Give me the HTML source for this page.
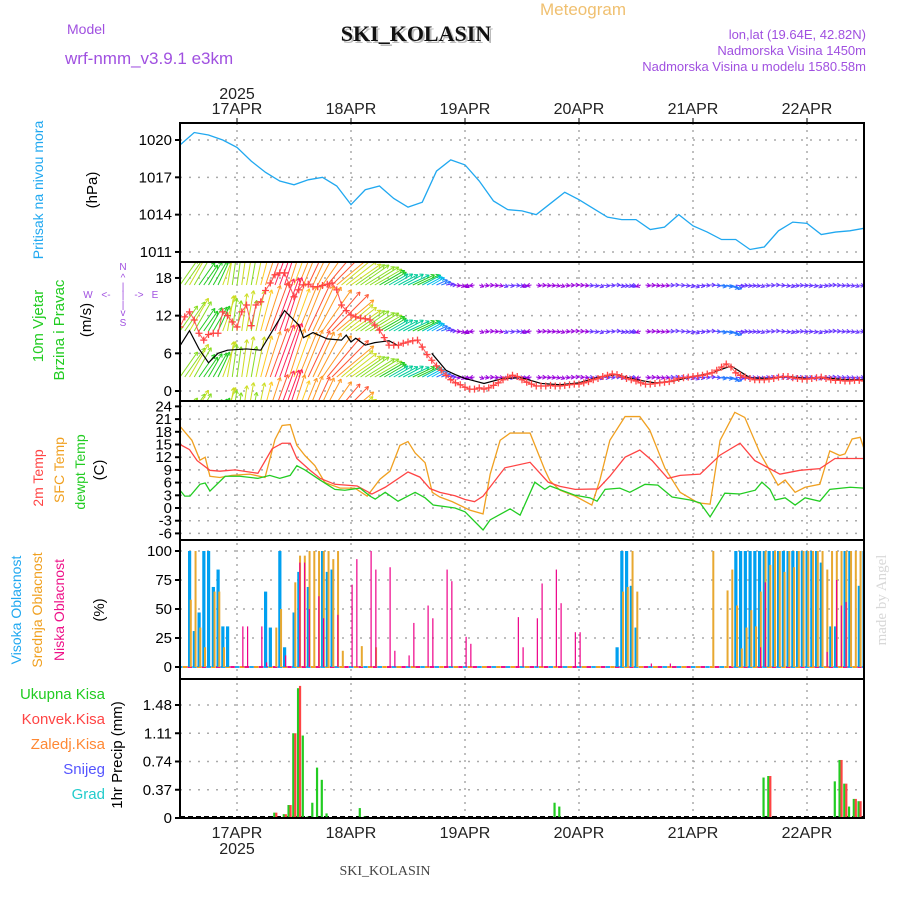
<!DOCTYPE html>
<html><head><meta charset="utf-8"><style>
body{margin:0;background:#fff}
svg{display:block}
text{font-family:"Liberation Sans",sans-serif}
text.serif{font-family:"Liberation Serif",serif}
</style></head><body>
<svg id="chart" width="900" height="900" viewBox="0 0 900 900" xmlns="http://www.w3.org/2000/svg">
<defs>
<clipPath id="cp1"><rect x="180" y="123" width="684" height="139"/></clipPath>
<clipPath id="cp2"><rect x="180" y="263" width="684" height="137"/></clipPath>
<clipPath id="cp3"><rect x="180" y="402" width="684" height="137"/></clipPath>
<clipPath id="cp4"><rect x="180" y="541" width="684" height="137"/></clipPath>
<clipPath id="cp5"><rect x="180" y="680" width="684" height="137"/></clipPath>
</defs>
<text x="583" y="15" font-size="17" fill="#f0c070" text-anchor="middle">Meteogram</text>
<text x="67" y="34" font-size="14" fill="#a050e0">Model</text>
<text x="65" y="64" font-size="17" fill="#a050e0">wrf-nmm_v3.9.1 e3km</text>
<text class="serif" x="418" y="43" font-size="22" font-weight="bold" fill="#bbb" text-anchor="middle">SKI_KOLASIN</text>
<text class="serif" x="416" y="41" font-size="22" font-weight="bold" fill="#111" text-anchor="middle">SKI_KOLASIN</text>
<text x="866" y="39" font-size="13" fill="#a050e0" text-anchor="end">lon,lat (19.64E, 42.82N)</text>
<text x="866" y="55" font-size="13" fill="#a050e0" text-anchor="end">Nadmorska Visina 1450m</text>
<text x="866" y="71" font-size="13" fill="#a050e0" text-anchor="end">Nadmorska Visina u modelu 1580.58m</text>
<text x="237" y="99" font-size="16" fill="#222" text-anchor="middle">2025</text>
<g id="topdates"></g>
<g id="grid"></g>
<g id="marks"></g>
<g id="frames"></g>
<g id="ticks"></g>
<text transform="translate(43,190) rotate(-90)" font-size="14" fill="#20a8f0" text-anchor="middle">Pritisak na nivou mora</text>
<text transform="translate(97,190) rotate(-90)" font-size="15" fill="#000" text-anchor="middle">(hPa)</text>
<text transform="translate(43,326) rotate(-90)" font-size="15" fill="#22cc22" text-anchor="middle">10m Vjetar</text>
<text transform="translate(64,330) rotate(-90)" font-size="15" fill="#22cc22" text-anchor="middle">Brzina i Pravac</text>
<text transform="translate(91,320) rotate(-90)" font-size="15" fill="#000" text-anchor="middle">(m/s)</text>
<g fill="#a050e0" font-size="10" text-anchor="middle">
<text x="123" y="270">N</text><text x="123" y="281">^</text><text x="123" y="290">|</text>
<text x="88" y="298">W</text><text x="106" y="298">&lt;-</text><text x="123" y="298">|</text><text x="139" y="298">-&gt;</text><text x="155" y="298">E</text>
<text x="123" y="308">|</text><text x="123" y="316">v</text><text x="123" y="326">S</text>
</g>
<text transform="translate(43,478) rotate(-90)" font-size="14" fill="#ff4444" text-anchor="middle">2m Temp</text>
<text transform="translate(64,470) rotate(-90)" font-size="14" fill="#f0a020" text-anchor="middle">SFC Temp</text>
<text transform="translate(85,472) rotate(-90)" font-size="14" fill="#22cc22" text-anchor="middle">dewpt Temp</text>
<text transform="translate(104,470) rotate(-90)" font-size="15" fill="#000" text-anchor="middle">(C)</text>
<text transform="translate(21,610) rotate(-90)" font-size="14" fill="#20a8f0" text-anchor="middle">Visoka Oblacnost</text>
<text transform="translate(42,610) rotate(-90)" font-size="14" fill="#f0a020" text-anchor="middle">Srednja Oblacnost</text>
<text transform="translate(64,610) rotate(-90)" font-size="14" fill="#ee1188" text-anchor="middle">Niska Oblacnost</text>
<text transform="translate(104,610) rotate(-90)" font-size="15" fill="#000" text-anchor="middle">(%)</text>
<g font-size="15" text-anchor="end">
<text x="105" y="699" fill="#22cc22">Ukupna  Kisa</text>
<text x="105" y="724" fill="#ff4444">Konvek.Kisa</text>
<text x="105" y="749" fill="#ff8833">Zaledj.Kisa</text>
<text x="105" y="774" fill="#5555ff">Snijeg</text>
<text x="105" y="799" fill="#22cccc">Grad</text>
</g>
<text transform="translate(122,755) rotate(-90)" font-size="15" fill="#000" text-anchor="middle">1hr Precip (mm)</text>
<text class="serif" transform="translate(886,600) rotate(-90)" font-size="15" fill="#d8d8d8" text-anchor="middle">made by Angel</text>
<text x="237" y="854" font-size="16" fill="#222" text-anchor="middle">2025</text>
<text class="serif" x="385" y="875" font-size="14" fill="#444" text-anchor="middle">SKI_KOLASIN</text>
</svg>
<script>
const dayLabels=["17APR","18APR","19APR","20APR","21APR","22APR"];
const dayHours=[12,36,60,84,108,132];
const presTicks=[1020,1017,1014,1011];
const windTicks=[18,12,6,0];
const tempTicks=[24,21,18,15,12,9,6,3,0,-3,-6];
const cloudTicks=[100,75,50,25,0];
const precipTicks=[1.48,1.11,0.74,0.37,0];

const presHours=[0,3,6,9,12,15,18,21,24,27,30,33,36,39,42,45,48,51,54,57,60,63,66,69,72,75,78,81,84,87,90,93,96,99,102,105,108,111,114,117,120,123,126,129,132,135,138,141,144];
const presVals=[1019.6,1020.6,1020.4,1020.0,1019.4,1018.3,1017.4,1016.7,1016.4,1016.8,1017.0,1016.3,1014.8,1016.0,1016.3,1015.3,1014.6,1015.0,1017.5,1018.4,1018.0,1016.7,1015.1,1014.4,1014.3,1014.0,1014.9,1015.8,1015.2,1014.5,1013.8,1013.6,1013.6,1012.8,1013.0,1014.0,1013.1,1012.6,1012.0,1012.0,1011.2,1011.4,1012.7,1013.4,1013.3,1012.4,1012.6,1012.7,1012.9];

const windSpeed=[10.2,11.8,12.6,11.3,9.2,8.1,9.0,9.2,9.2,12.6,12.0,11.0,10.2,12.6,13.7,10.4,13.7,14.2,16.0,17.2,18.5,18.8,18.8,16.9,15.0,16.1,16.9,17.0,16.6,16.6,16.8,17.0,17.2,16.1,13.7,12.8,12.1,11.8,11.6,11.5,11.3,10.5,9.7,8.5,7.3,7.3,7.3,7.6,7.8,8.0,8.1,7.0,5.8,4.9,4.0,3.3,2.5,1.8,1.3,1.0,0.6,0.3,0.3,0.5,0.3,0.5,0.9,1.3,1.8,2.2,2.5,2.3,1.8,1.4,1.1,0.8,0.8,0.8,0.9,0.8,0.8,0.9,1.0,1.1,1.1,1.3,1.5,1.8,2.0,2.3,2.5,2.7,2.6,2.3,2.0,1.8,1.6,1.3,1.1,1.1,1.2,1.3,1.4,1.5,1.7,2.0,2.1,2.2,2.3,2.4,2.5,2.7,2.9,3.3,3.8,4.3,3.8,2.9,2.5,2.2,2.0,1.8,1.8,1.8,1.9,2.0,2.2,2.3,2.3,2.1,2.0,1.9,1.9,2.0,2.1,2.2,2.0,1.8,1.7,1.7,1.6,1.6,1.7,1.7,1.6];
const windDir=[35,35,30,30,35,35,30,30,25,20,10,8,8,8,10,10,12,15,18,20,20,20,18,18,20,22,22,25,25,28,35,40,45,50,50,52,55,55,55,58,58,60,60,60,60,60,62,62,65,65,65,62,62,60,65,70,80,90,100,110,120,250,260,110,100,95,100,105,110,100,95,100,110,250,260,100,95,100,100,105,110,100,95,90,95,100,100,105,110,100,95,90,100,100,105,110,260,250,100,95,100,105,100,95,90,95,100,105,110,100,95,90,95,100,100,105,110,100,95,100,100,105,110,100,95,90,95,100,105,100,95,100,100,105,110,100,95,90,95,100,100,105,110,100,100];
const gustHours=[0,2,4,6,8,10,14,17,19,22,25,26,28,31,34,35,36,37,39,41,44,46];
const gustVals=[7.2,9.6,6.7,4.5,6.0,6.5,6.7,6.5,9.0,12.8,10.5,8.5,9.3,8.3,8.1,8.9,7.8,8.4,7.3,7.7,8.0,7.2];
const gust2Hours=[53,56,58,60,64,68,72,76,80,84,88,92,96,100,104,108,112,116,120,124,128,132,136,140,144];
const gust2Vals=[6.0,3.3,2.6,2.0,1.2,2.0,2.1,1.2,1.0,1.3,2.2,2.6,1.8,1.3,1.6,2.3,2.9,4.0,2.1,2.0,2.3,2.0,2.1,1.8,1.8];

const t2mHours=[0,2,3.6,6.3,8.4,11.6,16.4,19.4,21.5,23.2,24.6,27.4,29.5,32.6,37.3,40.4,43.2,48,50.5,52.6,54.7,57.9,60,62,63.8,68.4,73.7,77.5,80,83.2,88,90.5,93.7,96.8,99.4,102.7,105.3,109.5,113.7,117.9,121,126.3,130.5,134.7,137.9,144];
const t2mVals=[15,13.8,11.2,8.9,8.7,9,8.2,14,15.3,15.3,11.7,8.9,7,5.6,5.2,3.3,4.9,8.5,7.3,4.6,3.7,2.9,2,1.5,2.8,9.5,10.8,6.1,5.1,4.4,4.5,7.5,12,13.7,11.2,7,7.7,8,12.5,15.3,11.2,8,8.9,9.3,11.7,11.7];
const sfcHours=[0,2.5,4.2,5.3,6.3,8.4,10.9,14.7,17.9,20,21.5,23.2,24.6,26.3,28.4,30.5,33.7,36.8,39.4,42.1,44.2,46.3,48,49.5,51.6,53.1,54.7,57.3,61,63.8,65.3,67.4,69.5,73.7,76.8,77.9,80,83.2,86.7,88.4,90.5,93.7,96.8,98.9,102.1,105.3,109.1,111.6,113.7,116.8,118.9,122.1,125.9,127.4,129.5,131.6,134.7,136.8,138.9,140,141.5,143.2,144];
const sfcVals=[19.3,16,11.3,12,7.5,7.2,7.7,8,7.2,16.2,19.5,19.7,14.8,12.4,10,6,4.7,4.7,2.8,6.8,8.7,14.8,15.7,13,10.7,3.7,2.6,1.5,-0.5,-1.4,8,16,17.7,17.7,9,6.4,4.2,2.8,0.7,6.6,16,21.6,21.6,18.4,9.4,3.7,1.2,0.9,16,22.6,21.4,13,5.4,6.6,3.7,4.9,5.6,13.5,12.4,12.8,16.3,16.7,14];
const dewHours=[0,1,2.1,4.2,5.3,6.3,9.5,12.6,16.4,18.9,21,23.2,24.6,26.3,29.5,32.6,34.7,37.9,40,41.1,43.2,45.9,49.5,51.6,53.3,57.9,60,63.8,65.3,69.5,71.6,74.7,76.8,77.9,83.2,86.3,87.8,89.5,92.6,94.7,97.9,100.6,103.6,107.4,109.5,111.6,114.7,117.9,121.1,122.5,124.2,125.3,127.4,129.5,131.6,134.7,136.8,141.1,144];
const dewVals=[4.2,2.8,2.8,5.6,5.9,4,7.5,7.5,7,7.7,7,7.7,10,9,6.6,4.4,4.2,4.7,2.8,2.1,3.7,1.6,3.7,2.4,0.7,0,-0.9,-5.2,-2.8,-0.2,-1.7,6.1,4.4,5.2,3,2.4,1.6,4.4,4.7,3.7,5.6,5.4,2.6,1.9,1.2,-2.1,3.5,3.3,4.2,6.1,4.4,1.9,2.4,0.7,2.4,1.6,4.4,4.9,4.7];

const hiHours=[2,3,4,5,6,7,8,9,10,18,19,21,22,24,25,27,30,31,32,92,93,94,95,96,117,118,119,120,121,122,123,124,125,126,127,128,129,130,131,132,133,134,135,137,138,140,141,143,144];
const hiVals=[100,31,47,100,100,69,84,35,35,65,34,100,17,47,82,69,100,82,84,17,100,100,70,34,100,100,100,100,100,100,100,100,100,100,100,100,100,100,100,100,100,100,90,35,35,100,100,70,100];
const midHours=[2,3,4,5,7,8,9,20,21,24,25,26,27,28,29,30,31,32,33,34,38,41,93,94,95,96,112,115,116,117,118,119,120,121,122,123,124,125,126,127,128,129,130,131,132,133,134,135,136,137,138,139,140,141,142,143];
const midVals=[58,100,34,17,65,65,17,34,50,73,96,96,100,100,100,100,100,93,100,14,18,17,65,69,100,65,100,66,84,53,16,34,49,35,65,100,88,100,100,82,100,86,100,100,100,100,100,100,84,100,100,100,100,100,100,100];
const lowHours=[13,14,17,18,22,25,26,27,29,30,33,36,37,40,41,44,45,48,49,52,53,56,57,60,61,71,72,75,76,79,80,83,84,99,103,122,123,136,138,139,140];
const lowVals=[35,35,35,4,10,90,90,50,61,42,45,71,93,100,84,86,14,10,38,53,42,84,74,26,20,43,17,42,72,84,55,30,30,3,3,17,73,13,75,53,56];

const totHours=[20,22,23,24,25,26,27,28,29,30,31,38,39,79,80,123,124,138,139,140,141,142,143];
const totVals=[0.07,0.05,0.17,1.11,1.7,1.08,0.02,0.2,0.66,0.5,0.06,0.13,0.02,0.2,0.15,0.53,0.55,0.48,0.76,0.45,0.15,0.25,0.22];
const convHours=[20,22,23,24,25,124,139,140,142,143];
const convVals=[0.07,0.05,0.17,1.11,1.73,0.55,0.76,0.45,0.25,0.22];

const NS="http://www.w3.org/2000/svg";
const X=h=>180+h*4.75;
const yP=v=>140+(1020-v)*12.44;
const yW=v=>391-v*6.28;
const yT=v=>508-v*4.233;
const yC=v=>667-v*1.16;
const yR=v=>818-v*76.35;
function mk(tag,attrs,parent){const e=document.createElementNS(NS,tag);for(const k in attrs)e.setAttribute(k,attrs[k]);parent.appendChild(e);return e;}
const grid=document.getElementById('grid'),marks=document.getElementById('marks'),frames=document.getElementById('frames'),ticks=document.getElementById('ticks'),topd=document.getElementById('topdates');
const panels=[[123,262],[262,401],[401,540],[540,679],[679,818]];
dayHours.forEach((h,i)=>{
  const x=X(h);
  const l=mk('line',{x1:x,x2:x,y1:123,y2:818,stroke:'#aaa','stroke-width':1.5,'stroke-dasharray':'2,5'},grid);
  
  
  const t=mk('text',{x:x,y:114,'font-size':16,fill:'#222','text-anchor':'middle'},topd);t.textContent=dayLabels[i];
  
  
  const b=mk('text',{x:x,y:838,'font-size':16,fill:'#222','text-anchor':'middle'},topd);b.textContent=dayLabels[i];
  
  
  mk('line',{x1:x,x2:x,y1:118,y2:123,stroke:'#000'},ticks);
});
function yTicks(arr,fn,fmt,name){arr.forEach(v=>{const y=fn(v);
  const g=mk('line',{x1:180,x2:864,y1:y,y2:y,stroke:'#aaa','stroke-width':1.5,'stroke-dasharray':'2,7'},grid);
  
  
  mk('line',{x1:175,x2:180,y1:y,y2:y,stroke:'#000','stroke-width':2},ticks);
  const t=mk('text',{x:172,y:y+5,'font-size':15,fill:'#000','text-anchor':'end'},ticks);t.textContent=fmt(v);
  
  
});}
yTicks(presTicks,yP,v=>v,'pressure');
yTicks(windTicks,yW,v=>v,'wind');
yTicks(tempTicks,yT,v=>v,'temp');
yTicks(cloudTicks,yC,v=>v,'cloud');
yTicks(precipTicks,yR,v=>v,'precip');
panels.forEach(p=>{const r=mk('rect',{x:180,y:p[0],width:684,height:p[1]-p[0],fill:'none',stroke:'#000','stroke-width':2},frames);
  
  });
function line(hs,vs,fn,color,clip,name,w){const g=mk('g',{'clip-path':'url(#'+clip+')'},marks);
  const p=mk('polyline',{points:hs.map((h,i)=>X(h)+','+fn(vs[i])).join(' '),fill:'none',stroke:color,'stroke-width':w||1.3},g);
  
  return g;}
line(presHours,presVals,yP,'#20a8f0','cp1','pressure-line');
function spdColor(s){if(s<1.5)return'#9900dd';if(s<3)return'#6633ff';if(s<4.5)return'#2277ff';if(s<6)return'#00bbee';if(s<8)return'#00cc99';if(s<10)return'#22cc22';if(s<12)return'#88dd22';if(s<14)return'#ccdd22';if(s<15.5)return'#ffcc22';if(s<17)return'#ff9922';if(s<18)return'#ff5533';return'#ff2255';}
const wg=mk('g',{'clip-path':'url(#cp2)'},marks);
[285,331,377,423].forEach(by=>{windSpeed.forEach((s,i)=>{
  const d=windDir[i]*Math.PI/180,L=Math.max(s*3,5),x0=X(i),y0=by;
  const x1=x0+L*Math.sin(d),y1=y0-L*Math.cos(d),c=spdColor(s);
  const a=mk('g',{stroke:c,'stroke-width':1,fill:'none'},wg);
  
  
  mk('line',{x1:x0,y1:y0,x2:x1,y2:y1},a);
  const hl=4;[2.6,-2.6].forEach(o=>{const ang=d+Math.PI+o*0.2;mk('line',{x1:x1,y1:y1,x2:x1+hl*Math.sin(ang),y2:y1-hl*Math.cos(ang)},a);});
});});
line(gustHours,gustVals,yW,'#000','cp2','wind-black-line',1.2);
line(gust2Hours,gust2Vals,yW,'#000','cp2','wind-black-line-2',1.2);
line(windSpeed.map((v,i)=>i),windSpeed,yW,'#ff5555','cp2','wind-speed-line',1);
const cg=mk('g',{'clip-path':'url(#cp2)',stroke:'#ff4444','stroke-width':1.3},marks);
windSpeed.forEach((v,i)=>{const x=X(i),y=yW(v);const m=mk('path',{d:`M${x-3.5},${y}h7M${x},${y-3.5}v7`},cg);
  
  });
line(sfcHours,sfcVals,yT,'#f0a020','cp3','sfc-temp-line');
line(t2mHours,t2mVals,yT,'#ff4444','cp3','t2m-line');
line(dewHours,dewVals,yT,'#22cc22','cp3','dewpoint-line');
const clg=mk('g',{'clip-path':'url(#cp4)'},marks);
for(let h=0;h<=144;h++){const c=['#20a8f0','#f0a020','#ee1188'][h%3];mk('line',{x1:X(h)-2,x2:X(h)+2.5,y1:667,y2:667,stroke:c,'stroke-width':2},clg);}
function bars(hs,vs,fn,color,off,w,g,name){hs.forEach((h,i)=>{const y=fn(vs[i]),y0=fn(0);
  const r=mk('rect',{x:X(h)+off,y:y,width:w,height:Math.max(0,y0-y),fill:color},g);
  
  });}
bars(hiHours,hiVals,yC,'#00a0f0',-1.5,3.2,clg,'high-cloud-bar');
bars(midHours,midVals,yC,'#e8a830',0.3,2,clg,'mid-cloud-bar');
bars(lowHours,lowVals,yC,'#ee0088',0.5,1.2,clg,'low-cloud-bar');
const pg=mk('g',{'clip-path':'url(#cp5)'},marks);
mk('line',{x1:180,x2:864,y1:817,y2:817,stroke:'#000','stroke-width':2,'stroke-dasharray':'5,3'},pg);
bars(totHours,totVals,yR,'#22cc22',-1.8,2.2,pg,'total-precip-bar');
bars(convHours,convVals,yR,'#ff4444',0.2,2.2,pg,'convective-precip-bar');
</script>
</body></html>
